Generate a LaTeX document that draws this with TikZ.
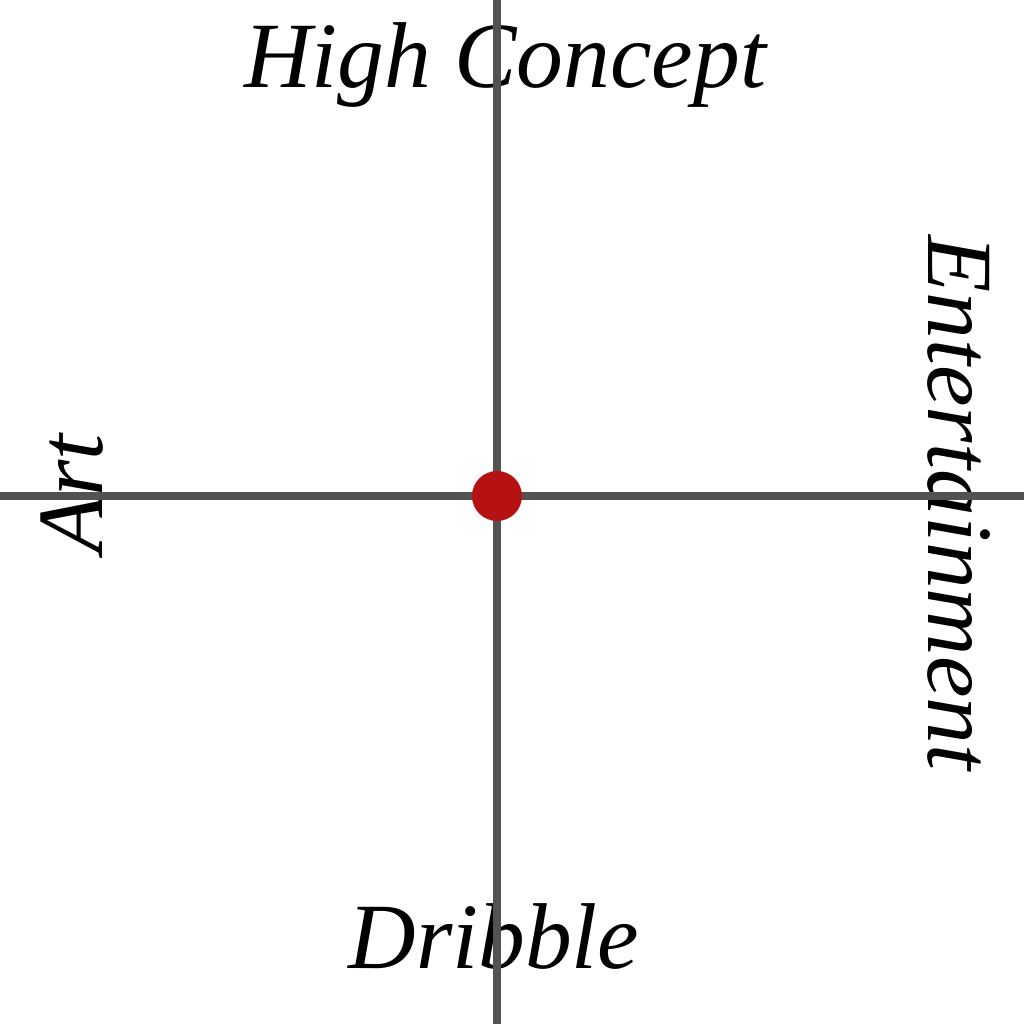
\documentclass[tikz,border=0pt]{standalone}
\usepackage{fontspec}
\setmainfont{Liberation Serif}
\definecolor{dotred}{RGB}{182,18,20}
\begin{document}
\begin{tikzpicture}[axis/.style = {draw = black!68, line width = 0.8mm},
  pole/.style = {font = \fontsize{26.6}{32}\selectfont\itshape, inner sep = 0pt, anchor = base}]
\useasboundingbox (0,0) rectangle (10.24,10.24);
\node[pole] (hc) at (5.05,9.36) {High Concept};
\node[pole] (dr) at (4.94,0.56) {Dribble};
\node[pole, rotate = 90] (art) at (1.02,5.30) {Art};
\node[pole, rotate = -90] (ent) at (9.28,5.21) {Entertainment};
\coordinate (top) at (4.97,10.24);
\coordinate (bot) at (4.97,0);
\coordinate (lft) at (0,5.28);
\coordinate (rgt) at (10.24,5.28);
\draw[axis] (bot) -- (top);
\draw[axis] (lft) -- (rgt);
\node[circle, fill = dotred, minimum size = 5mm, inner sep = 0pt] (dot) at (4.97,5.28) {};
\end{tikzpicture}
\end{document}
